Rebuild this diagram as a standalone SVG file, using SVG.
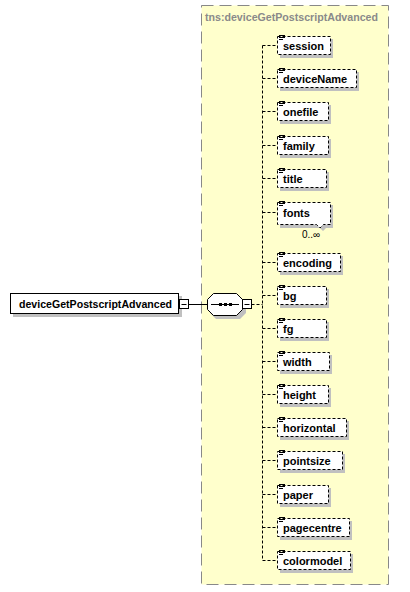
<svg xmlns="http://www.w3.org/2000/svg" width="410" height="592" viewBox="0 0 410 592">
<style>
.lbl{font-family:"Liberation Sans",Arial,sans-serif;font-weight:bold;font-size:11px;fill:#000}
.ttl{font-family:"Liberation Sans",Arial,sans-serif;font-weight:bold;font-size:11px;fill:#8a8a8a}
.occ{font-family:"Liberation Sans",Arial,sans-serif;font-size:10px;fill:#000}
.box{fill:#fff;stroke:#000;stroke-width:1;stroke-dasharray:3,2}
.sbox{fill:#fff;stroke:#000;stroke-width:1}
.shd{fill:#c0c0c0}
.dl{stroke:#000;stroke-width:1;stroke-dasharray:3,2;fill:none}
.sl{stroke:#000;stroke-width:1;fill:none}
.ico{stroke:#000;stroke-width:1}
</style>
<defs>
<g id="icon"><path class="ico" d="M0,0.5h6M0,2.5h6M0,4.5h4"/></g>
</defs>
<g id="container">
<rect x="201.5" y="5.5" width="187" height="579" fill="#ffffcc" stroke="#888" stroke-dasharray="12,6"/>
<text class="ttl" x="205" y="21" textLength="173" lengthAdjust="spacingAndGlyphs">tns:deviceGetPostscriptAdvanced</text>
</g>
<g id="connectors">
<path class="sl" d="M188.5,304.5H207.5"/>
<path class="dl" d="M251.5,304.5H262.5"/>
<path class="dl" d="M262.5,45.5V560.5"/>
<path class="dl" d="M262.5,45.5H277M262.5,78.5H277M262.5,111.5H277M262.5,145.5H277M262.5,178.5H277M262.5,212.5H277M262.5,262.5H277M262.5,295.5H277M262.5,328.5H277M262.5,361.5H277M262.5,394.5H277M262.5,427.5H277M262.5,460.5H277M262.5,494.5H277M262.5,527.5H277M262.5,560.5H277"/>
</g>
<g id="root">
<rect class="shd" x="13" y="296" width="169" height="21"/>
<rect class="sbox" x="10.5" y="293.5" width="168" height="20"/>
<text class="lbl" x="19" y="308" textLength="153" lengthAdjust="spacingAndGlyphs">deviceGetPostscriptAdvanced</text>
<rect class="sbox" x="179.5" y="299.5" width="9" height="9"/>
<path class="sl" d="M181.5,304.5H186.5"/>
</g>
<g id="sequence">
<path class="shd" d="M216,297H240L246,303V313L240,319H216L210,313V303Z"/>
<path class="sbox" d="M213.5,293.5H236.5L242.5,299.5V309.5L236.5,315.5H213.5L207.5,309.5V299.5Z"/>
<path class="sl" d="M211,304.5H239"/>
<rect x="219" y="303" width="3" height="3" fill="#000"/>
<rect x="224" y="303" width="3" height="3" fill="#000"/>
<rect x="229" y="303" width="3" height="3" fill="#000"/>
<rect class="sbox" x="242.5" y="299.5" width="9" height="9"/>
<path class="sl" d="M244.5,304.5H249.5"/>
</g>
<g id="session"><rect class="shd" x="280" y="39" width="53" height="19"/><rect class="box" x="277.5" y="36.5" width="53" height="18"/><use href="#icon" x="279" y="35"/><text class="lbl" x="283" y="50">session</text></g>
<g id="deviceName"><rect class="shd" x="280" y="72" width="79" height="19"/><rect class="box" x="277.5" y="69.5" width="79" height="18"/><use href="#icon" x="279" y="68"/><text class="lbl" x="283" y="83">deviceName</text></g>
<g id="onefile"><rect class="shd" x="280" y="105" width="51" height="19"/><rect class="box" x="277.5" y="102.5" width="51" height="18"/><use href="#icon" x="279" y="101"/><text class="lbl" x="283" y="116">onefile</text></g>
<g id="family"><rect class="shd" x="280" y="139" width="51" height="19"/><rect class="box" x="277.5" y="136.5" width="51" height="18"/><use href="#icon" x="279" y="135"/><text class="lbl" x="283" y="150">family</text></g>
<g id="title"><rect class="shd" x="280" y="172" width="49" height="19"/><rect class="box" x="277.5" y="169.5" width="49" height="18"/><use href="#icon" x="279" y="168"/><text class="lbl" x="283" y="183">title</text></g>
<g id="fonts"><path class="shd" d="M280,205H333V228H326L323,231L320,228H280Z"/><path class="box" d="M277.5,202.5H330.5V224.5H323.5L320,228L316.5,224.5H277.5Z"/><use href="#icon" x="279" y="201"/><text class="lbl" x="283" y="217">fonts</text><text class="occ" x="302" y="238">0..∞</text></g>
<g id="encoding"><rect class="shd" x="280" y="256" width="63" height="19"/><rect class="box" x="277.5" y="253.5" width="63" height="18"/><use href="#icon" x="279" y="252"/><text class="lbl" x="283" y="267">encoding</text></g>
<g id="bg"><rect class="shd" x="280" y="289" width="49" height="19"/><rect class="box" x="277.5" y="286.5" width="49" height="18"/><use href="#icon" x="279" y="285"/><text class="lbl" x="283" y="300">bg</text></g>
<g id="fg"><rect class="shd" x="280" y="322" width="49" height="19"/><rect class="box" x="277.5" y="319.5" width="49" height="18"/><use href="#icon" x="279" y="318"/><text class="lbl" x="283" y="333">fg</text></g>
<g id="width"><rect class="shd" x="280" y="355" width="52" height="19"/><rect class="box" x="277.5" y="352.5" width="52" height="18"/><use href="#icon" x="279" y="351"/><text class="lbl" x="283" y="366">width</text></g>
<g id="height"><rect class="shd" x="280" y="388" width="51" height="19"/><rect class="box" x="277.5" y="385.5" width="51" height="18"/><use href="#icon" x="279" y="384"/><text class="lbl" x="283" y="399">height</text></g>
<g id="horizontal"><rect class="shd" x="280" y="421" width="69" height="19"/><rect class="box" x="277.5" y="418.5" width="69" height="18"/><use href="#icon" x="279" y="417"/><text class="lbl" x="283" y="432">horizontal</text></g>
<g id="pointsize"><rect class="shd" x="280" y="454" width="65" height="19"/><rect class="box" x="277.5" y="451.5" width="65" height="18"/><use href="#icon" x="279" y="450"/><text class="lbl" x="283" y="465">pointsize</text></g>
<g id="paper"><rect class="shd" x="280" y="488" width="51" height="19"/><rect class="box" x="277.5" y="485.5" width="51" height="18"/><use href="#icon" x="279" y="484"/><text class="lbl" x="283" y="499">paper</text></g>
<g id="pagecentre"><rect class="shd" x="280" y="521" width="72" height="19"/><rect class="box" x="277.5" y="518.5" width="72" height="18"/><use href="#icon" x="279" y="517"/><text class="lbl" x="283" y="532">pagecentre</text></g>
<g id="colormodel"><rect class="shd" x="280" y="554" width="73" height="19"/><rect class="box" x="277.5" y="551.5" width="73" height="18"/><use href="#icon" x="279" y="550"/><text class="lbl" x="283" y="565">colormodel</text></g>
</svg>
